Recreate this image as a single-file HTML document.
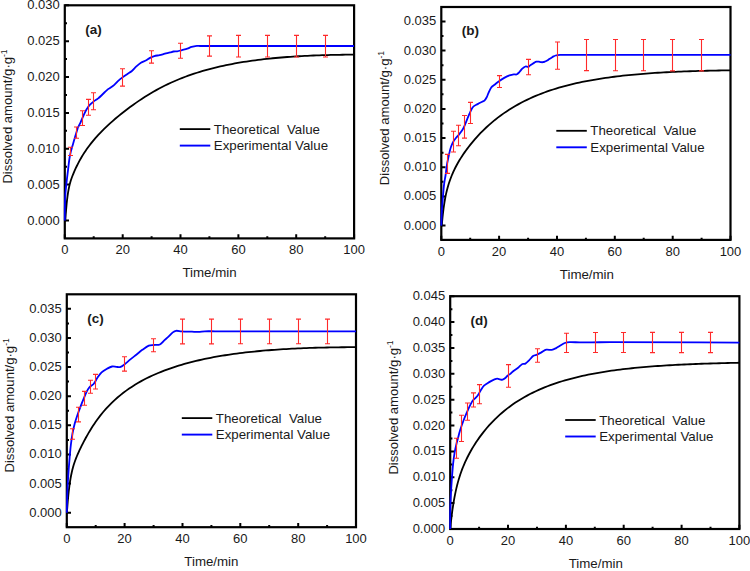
<!DOCTYPE html>
<html><head><meta charset="utf-8"><style>
html,body{margin:0;padding:0;background:#fff;overflow:hidden;}
svg{display:block;}
text{font-family:"Liberation Sans",sans-serif;fill:#1a1a1a;}
.tl{font-size:13px;}
.xt{font-size:13.3px;}
.yt{font-size:13.1px;}
.sup{font-size:8.5px;}
.lg{font-size:13.3px;}
.pl{font-size:13.5px;font-weight:bold;}
.fr{fill:none;stroke:#000;stroke-width:2.2;}
.tk{fill:none;stroke:#000;stroke-width:2;}
.bk{fill:none;stroke:#000;stroke-width:1.8;}
.bl{fill:none;stroke:#0000ff;stroke-width:1.8;}
.er{fill:none;stroke:#ff2a2a;stroke-width:1.1;}
.lgk{fill:none;stroke:#000;stroke-width:1.8;}
.lgb{fill:none;stroke:#0000ff;stroke-width:1.9;}
</style></head><body>
<svg width="750" height="571" viewBox="0 0 750 571">
<text x="59.8" y="224.5" class="tl" text-anchor="end">0.000</text>
<text x="59.8" y="188.6" class="tl" text-anchor="end">0.005</text>
<text x="59.8" y="152.8" class="tl" text-anchor="end">0.010</text>
<text x="59.8" y="116.9" class="tl" text-anchor="end">0.015</text>
<text x="59.8" y="81.1" class="tl" text-anchor="end">0.020</text>
<text x="59.8" y="45.2" class="tl" text-anchor="end">0.025</text>
<text x="59.8" y="9.3" class="tl" text-anchor="end">0.030</text>
<text x="64.8" y="254" class="tl" text-anchor="middle">0</text>
<text x="122.7" y="254" class="tl" text-anchor="middle">20</text>
<text x="180.5" y="254" class="tl" text-anchor="middle">40</text>
<text x="238.4" y="254" class="tl" text-anchor="middle">60</text>
<text x="296.2" y="254" class="tl" text-anchor="middle">80</text>
<text x="354.1" y="254" class="tl" text-anchor="middle">100</text>
<path d="M64.8 220.5h4.2M64.8 202.6h2.2M64.8 184.6h4.2M64.8 166.7h2.2M64.8 148.8h4.2M64.8 130.8h2.2M64.8 112.9h4.2M64.8 95h2.2M64.8 77.1h4.2M64.8 59.1h2.2M64.8 41.2h4.2M64.8 23.3h2.2M64.8 5.3h4.2M64.8 238.4v-4.2M93.7 238.4v-2.2M122.7 238.4v-4.2M151.6 238.4v-2.2M180.5 238.4v-4.2M209.4 238.4v-2.2M238.4 238.4v-4.2M267.3 238.4v-2.2M296.2 238.4v-4.2M325.2 238.4v-2.2M354.1 238.4v-4.2" class="tk"/>
<rect x="64.8" y="5.3" width="289.3" height="233.1" class="fr"/>
<path d="M64.8 220.5 64.82 220.5 64.88 220.5 64.97 220.5 65.1 220.5 65.28 220.5 65.48 217.89 65.73 214.55 66.02 210.88 66.34 207.07 66.7 203.27 67.1 199.58 67.54 196.1 68.01 192.85 68.53 189.85 69.08 187.08 69.67 184.52 70.3 182.17 70.96 180 71.67 177.95 72.41 175.99 73.19 174.05 74.01 172.1 74.86 170.16 75.76 168.2 76.69 166.25 77.66 164.3 78.67 162.35 79.71 160.4 80.8 158.46 81.92 156.53 83.08 154.62 84.28 152.74 85.51 150.89 86.79 149.06 88.1 147.25 89.45 145.45 90.84 143.67 92.27 141.9 93.73 140.14 95.18 138.46 98.09 135.21 101 132.12 103.9 129.18 106.81 126.36 109.72 123.66 112.63 121.05 115.54 118.54 118.45 116.11 121.36 113.75 124.27 111.46 127.18 109.23 130.09 107.06 133 104.94 135.91 102.87 138.82 100.87 141.72 98.93 144.63 97.04 147.54 95.22 150.45 93.45 153.36 91.75 156.27 90.1 159.18 88.52 162.09 86.99 165 85.53 167.91 84.12 170.82 82.77 173.73 81.46 176.64 80.21 179.54 79.01 182.45 77.86 185.36 76.75 188.27 75.69 191.18 74.66 194.09 73.68 197 72.74 199.91 71.83 202.82 70.96 205.73 70.13 208.64 69.33 211.55 68.56 214.46 67.83 217.37 67.12 220.27 66.45 223.18 65.8 226.09 65.18 229 64.59 231.91 64.02 234.82 63.47 237.73 62.95 240.64 62.45 243.55 61.98 246.46 61.52 249.37 61.09 252.28 60.67 255.19 60.28 258.09 59.9 261 59.54 263.91 59.2 266.82 58.87 269.73 58.56 272.64 58.27 275.55 57.99 278.46 57.73 281.37 57.48 284.28 57.24 287.19 57.02 290.1 56.8 293.01 56.61 295.91 56.42 298.82 56.24 301.73 56.08 304.64 55.92 307.55 55.78 310.46 55.65 313.37 55.52 316.28 55.41 319.19 55.3 322.1 55.21 325.01 55.12 327.92 55.04 330.83 54.97 333.74 54.91 336.64 54.85 339.55 54.8 342.46 54.76 345.37 54.72 348.28 54.7 351.19 54.67 354.1 54.66" class="bk"/>
<path d="M64.8 220.5C64.83 215.07 64.76 209.63 64.9 204.2C65 200.36 65.2 196.53 65.5 192.7C65.8 188.83 66.27 184.96 66.7 181.1C67.13 177.26 67.64 173.43 68.1 169.6C68.51 166.23 68.8 162.85 69.3 159.5C69.67 157.02 70.13 154.54 70.7 152.1C71.2 149.98 71.9 147.9 72.5 145.8C73.2 143.33 73.87 140.86 74.6 138.4C75.44 135.59 76.35 132.8 77.2 130C77.41 129.3 77.51 128.56 77.8 127.9C78.71 125.83 79.85 123.86 80.8 121.8C81.75 119.76 82.55 117.64 83.5 115.6C84.45 113.54 85.34 111.44 86.5 109.5C87.51 107.81 88.69 106.17 90 104.7C91.03 103.54 92.27 102.55 93.5 101.6C94.9 100.52 96.5 99.68 97.9 98.6C99.13 97.65 100.27 96.57 101.4 95.5C102.6 94.37 103.7 93.13 104.9 92C106.03 90.93 107.17 89.84 108.4 88.9C108.87 88.54 109.51 88.43 110 88.1C111.47 87.1 112.96 86.08 114.3 84.9C115.8 83.58 117.02 81.95 118.5 80.6C119.76 79.45 121.13 78.42 122.5 77.4C124 76.29 125.56 75.25 127.1 74.2C128.69 73.12 130.43 72.22 131.9 71C133.43 69.72 134.63 68.06 136.1 66.7C137.63 65.29 139.15 63.8 140.9 62.7C142.55 61.66 144.56 61.22 146.3 60.3C147.6 59.62 148.7 58.58 150 57.9C151.37 57.18 152.82 56.53 154.3 56.1C156.02 55.6 157.85 55.5 159.6 55.1C161.38 54.7 163.13 54.15 164.9 53.7C166.7 53.25 168.51 52.86 170.3 52.4C171.37 52.13 172.41 51.67 173.5 51.5C174.71 51.31 175.99 51.5 177.2 51.3C178.82 51.03 180.4 50.51 182 50.1C183.77 49.64 185.57 49.28 187.3 48.7C188.77 48.21 190.12 47.33 191.6 46.9C193.32 46.4 195.12 46.09 196.9 45.9C197.92 45.79 198.97 46 200 46C251.33 46.03 302.67 46 354 46" class="bl"/>
<path d="M70.5 147.3V155.5M68 147.3h5M68 155.5h5M76.5 127V138.2M74 127h5M74 138.2h5M82.5 110.8V125.5M80 110.8h5M80 125.5h5M88.5 99.4V115.2M86 99.4h5M86 115.2h5M93.5 92.7V109.7M91 92.7h5M91 109.7h5M122.5 68.7V86.1M120 68.7h5M120 86.1h5M151.5 50.8V63.1M149 50.8h5M149 63.1h5M180.5 43.3V58.3M178 43.3h5M178 58.3h5M209.5 35.9V56.1M207 35.9h5M207 56.1h5M238.5 35.4V57M236 35.4h5M236 57h5M267.5 35.4V57M265 35.4h5M265 57h5M296.5 35.4V57M294 35.4h5M294 57h5M325.5 35.4V57M323 35.4h5M323 57h5" class="er"/>
<text x="85.2" y="33.7" class="pl">(a)</text>
<path d="M179.8 129.1h30.5" class="lgk"/>
<path d="M179.8 145.6h30.5" class="lgb"/>
<text x="213.8" y="133.7" class="lg">Theoretical&#160; Value</text>
<text x="213.8" y="149.8" class="lg">Experimental Value</text>
<text x="209.5" y="277.3" class="xt" text-anchor="middle">Time/min</text>
<text transform="translate(11.9 183.6) rotate(-90)" class="yt">Dissolved amount/g&#183;g<tspan dy="-5" class="sup">-1</tspan></text>
<text x="436.3" y="229.6" class="tl" text-anchor="end">0.000</text>
<text x="436.3" y="200.4" class="tl" text-anchor="end">0.005</text>
<text x="436.3" y="171.3" class="tl" text-anchor="end">0.010</text>
<text x="436.3" y="142.1" class="tl" text-anchor="end">0.015</text>
<text x="436.3" y="112.9" class="tl" text-anchor="end">0.020</text>
<text x="436.3" y="83.7" class="tl" text-anchor="end">0.025</text>
<text x="436.3" y="54.6" class="tl" text-anchor="end">0.030</text>
<text x="436.3" y="25.4" class="tl" text-anchor="end">0.035</text>
<text x="441.3" y="255.5" class="tl" text-anchor="middle">0</text>
<text x="499.1" y="255.5" class="tl" text-anchor="middle">20</text>
<text x="557" y="255.5" class="tl" text-anchor="middle">40</text>
<text x="614.8" y="255.5" class="tl" text-anchor="middle">60</text>
<text x="672.7" y="255.5" class="tl" text-anchor="middle">80</text>
<text x="730.5" y="255.5" class="tl" text-anchor="middle">100</text>
<path d="M441.3 225.6h4.2M441.3 211h2.2M441.3 196.4h4.2M441.3 181.8h2.2M441.3 167.3h4.2M441.3 152.7h2.2M441.3 138.1h4.2M441.3 123.5h2.2M441.3 108.9h4.2M441.3 94.3h2.2M441.3 79.7h4.2M441.3 65.2h2.2M441.3 50.6h4.2M441.3 36h2.2M441.3 21.4h4.2M441.3 239.9v-4.2M470.2 239.9v-2.2M499.1 239.9v-4.2M528.1 239.9v-2.2M557 239.9v-4.2M585.9 239.9v-2.2M614.8 239.9v-4.2M643.7 239.9v-2.2M672.7 239.9v-4.2M701.6 239.9v-2.2M730.5 239.9v-4.2" class="tk"/>
<rect x="441.3" y="7" width="289.2" height="232.9" class="fr"/>
<path d="M441.3 225.6 441.32 225.6 441.38 225.6 441.47 225.6 441.6 225.6 441.78 224.88 441.98 222.8 442.23 220.31 442.52 217.51 442.84 214.5 443.2 211.37 443.6 208.2 444.04 205.06 444.51 201.99 445.03 199.01 445.58 196.14 446.17 193.39 446.79 190.75 447.46 188.21 448.16 185.74 448.91 183.34 449.69 180.99 450.5 178.7 451.36 176.46 452.25 174.28 453.18 172.15 454.15 170.06 455.16 168 456.21 165.98 457.29 163.99 458.41 162.02 459.57 160.06 460.77 158.12 462.01 156.2 463.28 154.28 464.59 152.38 465.94 150.48 467.33 148.6 468.76 146.72 470.22 144.85 471.67 143.06 474.57 139.6 477.48 136.34 480.39 133.24 483.3 130.3 486.21 127.51 489.12 124.85 492.02 122.33 494.93 119.93 497.84 117.64 500.75 115.46 503.66 113.38 506.56 111.4 509.47 109.51 512.38 107.71 515.29 105.99 518.2 104.35 521.11 102.79 524.01 101.29 526.92 99.86 529.83 98.49 532.74 97.19 535.65 95.94 538.56 94.74 541.46 93.6 544.37 92.51 547.28 91.46 550.19 90.47 553.1 89.51 556.01 88.6 558.91 87.72 561.82 86.89 564.73 86.09 567.64 85.32 570.55 84.59 573.45 83.89 576.36 83.22 579.27 82.58 582.18 81.97 585.09 81.38 588 80.82 590.9 80.28 593.81 79.77 596.72 79.28 599.63 78.81 602.54 78.36 605.45 77.93 608.35 77.52 611.26 77.12 614.17 76.75 617.08 76.39 619.99 76.04 622.89 75.72 625.8 75.4 628.71 75.1 631.62 74.82 634.53 74.55 637.44 74.29 640.34 74.04 643.25 73.8 646.16 73.57 649.07 73.36 651.98 73.15 654.89 72.96 657.79 72.77 660.7 72.59 663.61 72.43 666.52 72.27 669.43 72.11 672.34 71.97 675.24 71.83 678.15 71.7 681.06 71.58 683.97 71.46 686.88 71.35 689.78 71.25 692.69 71.15 695.6 71.06 698.51 70.97 701.42 70.89 704.33 70.82 707.23 70.75 710.14 70.68 713.05 70.62 715.96 70.56 718.87 70.51 721.78 70.46 724.68 70.42 727.59 70.37 730.5 70.34" class="bk"/>
<path d="M441.3 225.6C441.5 220.4 441.59 215.19 441.9 210C442.19 204.99 442.68 200 443.1 195C443.41 191.36 443.65 187.72 444.1 184.1C444.48 181.05 445.15 178.04 445.6 175C446.12 171.47 446.44 167.92 447 164.4C447.37 162.05 447.91 159.73 448.4 157.4C448.84 155.3 449.28 153.19 449.8 151.1C450.21 149.45 450.61 147.79 451.2 146.2C451.78 144.65 452.47 143.12 453.3 141.7C454.1 140.32 455.11 139.06 456.1 137.8C456.98 136.69 458.01 135.7 458.9 134.6C460.04 133.2 461.23 131.82 462.2 130.3C463.1 128.88 463.81 127.34 464.5 125.8C465.51 123.54 466.35 121.19 467.3 118.9C468.25 116.62 469.14 114.32 470.2 112.1C471.04 110.35 471.73 108.38 473 107C474.19 105.71 476.03 105 477.6 104.1C479.06 103.27 480.59 102.55 482.1 101.8C482.86 101.42 483.81 101.27 484.4 100.7C485.35 99.77 486.05 98.5 486.7 97.3C487.32 96.16 487.65 94.88 488.2 93.7C489.21 91.54 490.05 89.2 491.4 87.3C492.18 86.2 493.53 85.56 494.6 84.7C496.19 83.43 497.74 82.08 499.4 80.9C500.94 79.81 502.55 78.8 504.2 77.9C505.91 76.97 507.68 76.08 509.5 75.4C510.88 74.88 512.35 74.49 513.8 74.3C514.68 74.19 515.71 74.78 516.5 74.5C517.48 74.15 518.32 73.18 519.1 72.4C520.25 71.25 521.11 69.8 522.3 68.7C523.24 67.83 524.35 66.85 525.5 66.5C526.31 66.25 527.39 67.09 528.2 66.9C528.92 66.73 529.45 65.88 530.1 65.4C530.82 64.88 531.56 64.38 532.3 63.9C532.99 63.45 533.67 62.98 534.4 62.6C535.07 62.25 535.77 61.87 536.5 61.7C537.2 61.54 537.98 61.53 538.7 61.6C539.41 61.67 540.09 62 540.8 62.1C541.49 62.2 542.22 62.3 542.9 62.2C543.65 62.1 544.39 61.78 545.1 61.5C545.82 61.22 546.54 60.9 547.2 60.5C547.94 60.06 548.58 59.47 549.3 59C550.01 58.54 550.77 58.14 551.5 57.7C552.2 57.27 552.87 56.78 553.6 56.4C554.27 56.05 554.98 55.72 555.7 55.5C556.41 55.29 557.16 55.2 557.9 55.1C558.6 55 559.3 54.92 560 54.9C561.66 54.85 563.33 54.9 565 54.9C620.17 54.9 675.33 54.9 730.5 54.9" class="bl"/>
<path d="M447.5 154.4V173.4M445 154.4h5M445 173.4h5M453.5 131.2V152M451 131.2h5M451 152h5M458.5 125.2V145.8M456 125.2h5M456 145.8h5M464.5 115.5V138.1M462 115.5h5M462 138.1h5M470.5 102.4V123.5M468 102.4h5M468 123.5h5M499.5 75.6V87.5M497 75.6h5M497 87.5h5M528.5 59.4V74.7M526 59.4h5M526 74.7h5M557.5 42V69.3M555 42h5M555 69.3h5M586.5 39.5V70.6M584 39.5h5M584 70.6h5M615.5 39.5V70.8M613 39.5h5M613 70.8h5M643.5 39.5V70.8M641 39.5h5M641 70.8h5M672.5 39.5V70.9M670 39.5h5M670 70.9h5M701.5 39.5V70.9M699 39.5h5M699 70.9h5" class="er"/>
<text x="461.7" y="35.4" class="pl">(b)</text>
<path d="M556.3 130.8h30.5" class="lgk"/>
<path d="M556.3 147.3h30.5" class="lgb"/>
<text x="590.3" y="135.4" class="lg">Theoretical&#160; Value</text>
<text x="590.3" y="151.5" class="lg">Experimental Value</text>
<text x="586.9" y="278.8" class="xt" text-anchor="middle">Time/min</text>
<text transform="translate(388.9 185.2) rotate(-90)" class="yt">Dissolved amount/g&#183;g<tspan dy="-5" class="sup">-1</tspan></text>
<text x="61.8" y="516.7" class="tl" text-anchor="end">0.000</text>
<text x="61.8" y="487.6" class="tl" text-anchor="end">0.005</text>
<text x="61.8" y="458.4" class="tl" text-anchor="end">0.010</text>
<text x="61.8" y="429.3" class="tl" text-anchor="end">0.015</text>
<text x="61.8" y="400.2" class="tl" text-anchor="end">0.020</text>
<text x="61.8" y="371.1" class="tl" text-anchor="end">0.025</text>
<text x="61.8" y="341.9" class="tl" text-anchor="end">0.030</text>
<text x="61.8" y="312.8" class="tl" text-anchor="end">0.035</text>
<text x="66.8" y="542.8" class="tl" text-anchor="middle">0</text>
<text x="124.6" y="542.8" class="tl" text-anchor="middle">20</text>
<text x="182.5" y="542.8" class="tl" text-anchor="middle">40</text>
<text x="240.3" y="542.8" class="tl" text-anchor="middle">60</text>
<text x="298.2" y="542.8" class="tl" text-anchor="middle">80</text>
<text x="356" y="542.8" class="tl" text-anchor="middle">100</text>
<path d="M66.8 512.7h4.2M66.8 498.1h2.2M66.8 483.6h4.2M66.8 469h2.2M66.8 454.4h4.2M66.8 439.9h2.2M66.8 425.3h4.2M66.8 410.7h2.2M66.8 396.2h4.2M66.8 381.6h2.2M66.8 367.1h4.2M66.8 352.5h2.2M66.8 337.9h4.2M66.8 323.4h2.2M66.8 308.8h4.2M66.8 527.2v-4.2M95.7 527.2v-2.2M124.6 527.2v-4.2M153.6 527.2v-2.2M182.5 527.2v-4.2M211.4 527.2v-2.2M240.3 527.2v-4.2M269.2 527.2v-2.2M298.2 527.2v-4.2M327.1 527.2v-2.2M356 527.2v-4.2" class="tk"/>
<rect x="66.8" y="294.3" width="289.2" height="232.9" class="fr"/>
<path d="M66.8 512.7 66.82 512.7 66.88 512.6 66.97 511.5 67.1 509.8 67.28 507.56 67.48 504.89 67.73 501.88 68.02 498.62 68.34 495.22 68.7 491.75 69.1 488.3 69.54 484.92 70.01 481.65 70.53 478.52 71.08 475.54 71.67 472.72 72.29 470.04 72.96 467.5 73.66 465.09 74.41 462.78 75.19 460.55 76 458.37 76.86 456.24 77.75 454.13 78.68 452.04 79.65 449.95 80.66 447.84 81.71 445.72 82.79 443.58 83.91 441.42 85.07 439.23 86.27 437.04 87.51 434.83 88.78 432.63 90.09 430.42 91.44 428.23 92.83 426.05 94.26 423.89 95.72 421.76 97.17 419.73 100.07 415.87 102.98 412.27 105.89 408.92 108.8 405.79 111.71 402.85 114.62 400.1 117.52 397.52 120.43 395.08 123.34 392.79 126.25 390.62 129.16 388.57 132.06 386.63 134.97 384.79 137.88 383.05 140.79 381.4 143.7 379.82 146.61 378.32 149.51 376.9 152.42 375.54 155.33 374.24 158.24 373 161.15 371.81 164.06 370.68 166.96 369.6 169.87 368.56 172.78 367.56 175.69 366.6 178.6 365.69 181.51 364.81 184.41 363.97 187.32 363.16 190.23 362.39 193.14 361.65 196.05 360.93 198.95 360.25 201.86 359.6 204.77 358.97 207.68 358.37 210.59 357.79 213.5 357.24 216.4 356.71 219.31 356.2 222.22 355.71 225.13 355.24 228.04 354.8 230.95 354.37 233.85 353.96 236.76 353.56 239.67 353.19 242.58 352.83 245.49 352.48 248.39 352.15 251.3 351.84 254.21 351.54 257.12 351.25 260.03 350.98 262.94 350.71 265.84 350.47 268.75 350.23 271.66 350 274.57 349.79 277.48 349.58 280.39 349.39 283.29 349.21 286.2 349.03 289.11 348.87 292.02 348.71 294.93 348.57 297.84 348.43 300.74 348.3 303.65 348.18 306.56 348.07 309.47 347.96 312.38 347.86 315.28 347.77 318.19 347.69 321.1 347.61 324.01 347.54 326.92 347.48 329.83 347.42 332.73 347.37 335.64 347.33 338.55 347.29 341.46 347.25 344.37 347.23 347.28 347.2 350.18 347.19 353.09 347.18 356 347.17" class="bk"/>
<path d="M66.8 512.7C66.97 506.2 67.06 499.7 67.3 493.2C67.46 488.76 67.73 484.33 68 479.9C68.27 475.46 68.57 471.03 68.9 466.6C69.23 462.16 69.6 457.73 70 453.3C70.27 450.36 70.53 447.42 70.9 444.5C71.36 440.82 71.83 437.14 72.5 433.5C73.13 430.07 73.89 426.66 74.8 423.3C75.63 420.23 76.66 417.21 77.7 414.2C78.76 411.14 79.93 408.12 81.1 405.1C82 402.79 82.95 400.49 83.9 398.2C84.85 395.92 85.66 393.58 86.8 391.4C87.63 389.81 88.6 388.21 89.8 386.9C90.86 385.74 92.6 385.2 93.6 384C95.13 382.17 96.03 379.8 97.4 377.8C98.7 375.9 99.94 373.86 101.6 372.3C103.21 370.79 105.25 369.68 107.2 368.6C108.75 367.74 110.41 366.84 112.1 366.5C113.44 366.24 114.9 366.69 116.3 366.8C117.53 366.89 118.87 367.44 120 367.1C121.64 366.61 123.16 365.37 124.6 364.3C126.63 362.8 128.44 361 130.4 359.4C132.44 357.73 134.54 356.14 136.6 354.5C138.64 352.87 140.59 351.12 142.7 349.6C144.65 348.19 146.62 346.61 148.8 345.7C150.29 345.08 152.06 345.18 153.7 345C155.76 344.78 158.12 345.31 159.9 344.5C161.72 343.67 162.93 341.52 164.5 340.1C165.8 338.92 167.22 337.89 168.5 336.7C169.98 335.32 171.23 333.64 172.8 332.4C173.73 331.67 174.86 330.95 176 330.8C177.69 330.58 179.53 331.2 181.3 331.3C184.86 331.5 188.43 331.57 192 331.7C194.13 331.77 196.27 331.97 198.4 331.9C200.54 331.83 202.66 331.38 204.8 331.3C208.19 331.18 211.6 331.3 215 331.3C262 331.3 309 331.3 356 331.3" class="bl"/>
<path d="M72.5 428.7V439.2M70 428.7h5M70 439.2h5M78.5 407.3V421.9M76 407.3h5M76 421.9h5M84.5 391.4V405.3M82 391.4h5M82 405.3h5M90.5 380.2V393.3M88 380.2h5M88 393.3h5M95.5 374.4V389M93 374.4h5M93 389h5M124.5 356.7V371.1M122 356.7h5M122 371.1h5M153.5 338.8V351.8M151 338.8h5M151 351.8h5M182.5 319.1V343.9M180 319.1h5M180 343.9h5M211.5 319.1V343.9M209 319.1h5M209 343.9h5M240.5 319.1V343.8M238 319.1h5M238 343.8h5M269.5 319.1V343.8M267 319.1h5M267 343.8h5M298.5 319.1V343.8M296 319.1h5M296 343.8h5M327.5 319.1V343.8M325 319.1h5M325 343.8h5" class="er"/>
<text x="87.2" y="322.7" class="pl">(c)</text>
<path d="M181.8 418.1h30.5" class="lgk"/>
<path d="M181.8 434.6h30.5" class="lgb"/>
<text x="215.8" y="422.7" class="lg">Theoretical&#160; Value</text>
<text x="215.8" y="438.8" class="lg">Experimental Value</text>
<text x="211.4" y="566.1" class="xt" text-anchor="middle">Time/min</text>
<text transform="translate(14 472.5) rotate(-90)" class="yt">Dissolved amount/g&#183;g<tspan dy="-5" class="sup">-1</tspan></text>
<text x="445.2" y="533" class="tl" text-anchor="end">0.000</text>
<text x="445.2" y="507.1" class="tl" text-anchor="end">0.005</text>
<text x="445.2" y="481.3" class="tl" text-anchor="end">0.010</text>
<text x="445.2" y="455.4" class="tl" text-anchor="end">0.015</text>
<text x="445.2" y="429.6" class="tl" text-anchor="end">0.020</text>
<text x="445.2" y="403.7" class="tl" text-anchor="end">0.025</text>
<text x="445.2" y="377.8" class="tl" text-anchor="end">0.030</text>
<text x="445.2" y="352" class="tl" text-anchor="end">0.035</text>
<text x="445.2" y="326.1" class="tl" text-anchor="end">0.040</text>
<text x="445.2" y="300.3" class="tl" text-anchor="end">0.045</text>
<text x="450.2" y="544.6" class="tl" text-anchor="middle">0</text>
<text x="508" y="544.6" class="tl" text-anchor="middle">20</text>
<text x="565.9" y="544.6" class="tl" text-anchor="middle">40</text>
<text x="623.7" y="544.6" class="tl" text-anchor="middle">60</text>
<text x="681.6" y="544.6" class="tl" text-anchor="middle">80</text>
<text x="739.4" y="544.6" class="tl" text-anchor="middle">100</text>
<path d="M450.2 529h4.2M450.2 516.1h2.2M450.2 503.1h4.2M450.2 490.2h2.2M450.2 477.3h4.2M450.2 464.4h2.2M450.2 451.4h4.2M450.2 438.5h2.2M450.2 425.6h4.2M450.2 412.6h2.2M450.2 399.7h4.2M450.2 386.8h2.2M450.2 373.8h4.2M450.2 360.9h2.2M450.2 348h4.2M450.2 335.1h2.2M450.2 322.1h4.2M450.2 309.2h2.2M450.2 296.3h4.2M450.2 529v-4.2M479.1 529v-2.2M508 529v-4.2M537 529v-2.2M565.9 529v-4.2M594.8 529v-2.2M623.7 529v-4.2M652.6 529v-2.2M681.6 529v-4.2M710.5 529v-2.2M739.4 529v-4.2" class="tk"/>
<rect x="450.2" y="296.2" width="289.2" height="232.8" class="fr"/>
<path d="M450.2 528.9 450.22 528.72 450.28 528.15 450.37 527.21 450.5 525.92 450.68 524.3 450.88 522.38 451.13 520.2 451.42 517.78 451.74 515.16 452.1 512.39 452.5 509.5 452.94 506.52 453.41 503.49 453.93 500.43 454.48 497.37 455.07 494.33 455.69 491.33 456.36 488.37 457.06 485.47 457.81 482.64 458.59 479.87 459.4 477.17 460.26 474.53 461.15 471.95 462.08 469.43 463.05 466.96 464.06 464.54 465.11 462.16 466.19 459.82 467.31 457.51 468.47 455.24 469.67 452.99 470.91 450.76 472.18 448.56 473.49 446.38 474.84 444.22 476.23 442.09 477.66 439.97 479.12 437.88 480.57 435.89 483.47 432.08 486.38 428.52 489.29 425.18 492.2 422.05 495.11 419.1 498.02 416.32 500.92 413.7 503.83 411.23 506.74 408.89 509.65 406.67 512.56 404.58 515.46 402.59 518.37 400.7 521.28 398.91 524.19 397.21 527.1 395.6 530.01 394.06 532.91 392.6 535.82 391.2 538.73 389.88 541.64 388.61 544.55 387.41 547.46 386.26 550.36 385.16 553.27 384.12 556.18 383.12 559.09 382.17 562 381.26 564.91 380.39 567.81 379.56 570.72 378.76 573.63 378.01 576.54 377.28 579.45 376.59 582.35 375.93 585.26 375.3 588.17 374.69 591.08 374.12 593.99 373.56 596.9 373.04 599.8 372.53 602.71 372.05 605.62 371.59 608.53 371.14 611.44 370.72 614.35 370.32 617.25 369.93 620.16 369.56 623.07 369.21 625.98 368.87 628.89 368.55 631.79 368.24 634.7 367.94 637.61 367.66 640.52 367.39 643.43 367.13 646.34 366.88 649.24 366.64 652.15 366.42 655.06 366.2 657.97 365.99 660.88 365.79 663.79 365.6 666.69 365.42 669.6 365.25 672.51 365.08 675.42 364.92 678.33 364.77 681.24 364.63 684.14 364.49 687.05 364.36 689.96 364.23 692.87 364.11 695.78 363.99 698.68 363.88 701.59 363.77 704.5 363.67 707.41 363.58 710.32 363.48 713.23 363.4 716.13 363.31 719.04 363.23 721.95 363.15 724.86 363.08 727.77 363.01 730.68 362.94 733.58 362.88 736.49 362.82 739.4 362.76" class="bk"/>
<path d="M450.2 528.9C450.2 523.17 450.1 517.43 450.2 511.7C450.3 506.4 450.53 501.1 450.8 495.8C451.07 490.46 451.42 485.13 451.8 479.8C452.18 474.5 452.55 469.19 453.1 463.9C453.49 460.15 453.97 456.41 454.6 452.7C455.14 449.51 455.87 446.35 456.6 443.2C456.84 442.15 457.22 441.14 457.5 440.1C458.38 436.84 459.11 433.53 460.1 430.3C461.14 426.9 462.34 423.53 463.6 420.2C464.7 417.3 465.94 414.44 467.2 411.6C468.34 409.01 469.53 406.43 470.8 403.9C471.39 402.73 471.99 401.52 472.8 400.5C473.59 399.52 474.74 398.84 475.6 397.9C476.61 396.8 477.57 395.64 478.4 394.4C479.44 392.84 480.18 391.08 481.2 389.5C482.05 388.18 482.9 386.8 484 385.7C485 384.7 486.3 383.99 487.5 383.2C488.64 382.45 489.81 381.75 491 381.1C492.14 380.48 493.29 379.86 494.5 379.4C495.39 379.06 496.37 378.7 497.3 378.7C498.23 378.7 499.16 379.22 500.1 379.4C500.92 379.56 501.82 379.87 502.6 379.7C503.46 379.51 504.29 378.88 505 378.3C506.02 377.48 506.8 376.34 507.8 375.5C508.46 374.94 509.32 374.63 510 374.1C511.12 373.23 512.09 372.18 513.2 371.3C514.79 370.04 516.51 368.96 518.1 367.7C519.58 366.53 520.81 364.89 522.4 364C523.25 363.52 524.55 364.07 525.4 363.6C526.79 362.83 527.92 361.45 529.1 360.3C530.58 358.85 531.76 356.97 533.4 355.8C534.43 355.07 535.91 355.11 537.1 354.6C538.58 353.97 539.98 353.16 541.4 352.4C543.05 351.52 544.55 350.12 546.3 349.7C548.02 349.29 550.03 350.19 551.8 349.9C553.3 349.66 554.73 348.81 556.1 348.1C557.43 347.41 558.61 346.46 559.9 345.7C561.51 344.76 563.07 343.63 564.8 343C566.34 342.43 568.05 342.17 569.7 342.1C572.95 341.97 576.23 342.36 579.5 342.4C583.6 342.46 587.7 342.44 591.8 342.4C597.9 342.34 604 342.09 610.1 342.1C653.2 342.16 696.3 342.43 739.4 342.6" class="bl"/>
<path d="M456.5 438.2V458.3M454 438.2h5M454 458.3h5M461.5 415.2V441.5M459 415.2h5M459 441.5h5M467.5 403V420.2M465 403h5M465 420.2h5M473.5 392.9V407M471 392.9h5M471 407h5M479.5 384.6V403.7M477 384.6h5M477 403.7h5M508.5 364.6V387.3M506 364.6h5M506 387.3h5M537.5 348.7V362.2M535 348.7h5M535 362.2h5M566.5 333.2V352.5M564 333.2h5M564 352.5h5M595.5 332.5V352.5M593 332.5h5M593 352.5h5M623.5 332.5V352.5M621 332.5h5M621 352.5h5M652.5 332.4V352.6M650 332.4h5M650 352.6h5M681.5 332.4V352.6M679 332.4h5M679 352.6h5M710.5 332.4V352.6M708 332.4h5M708 352.6h5" class="er"/>
<text x="470.6" y="324.6" class="pl">(d)</text>
<path d="M565.2 420h30.5" class="lgk"/>
<path d="M565.2 436.5h30.5" class="lgb"/>
<text x="599.2" y="424.6" class="lg">Theoretical&#160; Value</text>
<text x="599.2" y="440.7" class="lg">Experimental Value</text>
<text x="595.8" y="567.9" class="xt" text-anchor="middle">Time/min</text>
<text transform="translate(397.9 474.6) rotate(-90)" class="yt">Dissolved amount/g&#183;g<tspan dy="-5" class="sup">-1</tspan></text>
</svg>
</body></html>
